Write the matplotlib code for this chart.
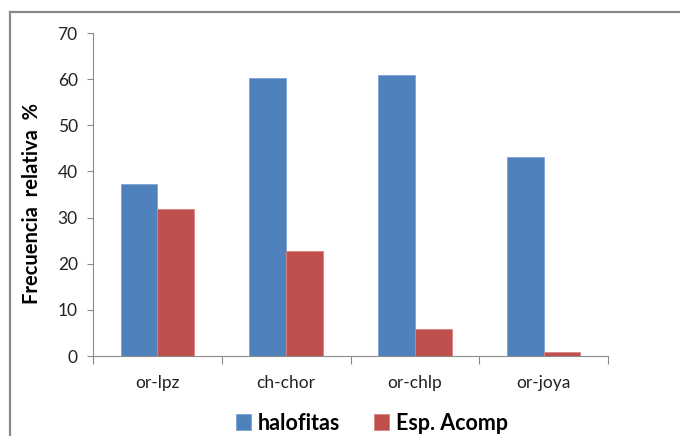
import matplotlib
matplotlib.use("Agg")
import matplotlib.pyplot as plt
from matplotlib.lines import Line2D
import numpy as np

categories = ["or-lpz", "ch-chor", "or-chlp", "or-joya"]
halofitas = [37.3, 60.2, 60.8, 43.2]
esp_acomp = [31.9, 22.8, 5.9, 0.8]
series_names = ["halofitas", "Esp. Acomp"]
yticks = [0, 10, 20, 30, 40, 50, 60, 70]

plt.rcParams['font.family'] = ['Lato', 'DejaVu Sans']

fig = plt.figure(figsize=(6.8, 4.36), dpi=100)
fig.patch.set_facecolor('white')

# outer chart frame (top and left edges visible)
fx, fy = 10/680, 1 - 12/436
fig.add_artist(Line2D([fx, 1.0], [fy, fy], transform=fig.transFigure,
                      color='#8a8a8a', linewidth=1.6))
fig.add_artist(Line2D([fx, fx], [0.0, fy], transform=fig.transFigure,
                      color='#8a8a8a', linewidth=1.6))

ax = fig.add_axes([93/680, 1 - 356/436, (608 - 93)/680, (356 - 33)/436])

x = np.arange(len(categories))
w = 0.286
blue = '#4f81bd'
red = '#c0504d'
b1 = ax.bar(x - w/2, halofitas, width=w, color=blue, edgecolor='#7ea3d6', linewidth=0.6, label=series_names[0])
b2 = ax.bar(x + w/2, esp_acomp, width=w, color=red, edgecolor='#d98482', linewidth=0.6, label=series_names[1])

ax.set_xlim(-0.5, len(categories) - 0.5)
ax.set_ylim(0, 70)
ax.set_yticks(yticks)
ax.set_yticklabels([str(v) for v in yticks], fontsize=12.5, color='#222222')

ax.set_xticks(x)
ax.set_xticklabels(categories, fontsize=12.5, color='#222222')
ax.tick_params(axis='x', length=0, pad=14)
# category boundary ticks
ax.set_xticks(np.arange(-0.5, len(categories)), minor=True)
ax.tick_params(axis='x', which='minor', length=6, color='#8c8c8c', width=0.8)
ax.tick_params(axis='y', length=4, color='#8c8c8c', width=0.8, pad=7)

for s in ['top', 'right']:
    ax.spines[s].set_visible(False)
for s in ['left', 'bottom']:
    ax.spines[s].set_color('#8c8c8c')
    ax.spines[s].set_linewidth(0.8)

fig.text(32/680, 1 - 203/436, "Frecuencia  relativa  %", rotation=90, fontsize=14.5,
         fontweight='bold', ha='center', va='center', color='black')

leg = fig.legend(handles=[b1, b2], labels=series_names, loc='center',
                 bbox_to_anchor=(372/680, 1 - 423/436), ncol=2, frameon=False,
                 prop={'size': 15.5, 'weight': 'bold'}, handlelength=0.7, handleheight=0.7,
                 columnspacing=1.6, handletextpad=0.3)

fig.savefig("out.png", dpi=100, facecolor='white')
